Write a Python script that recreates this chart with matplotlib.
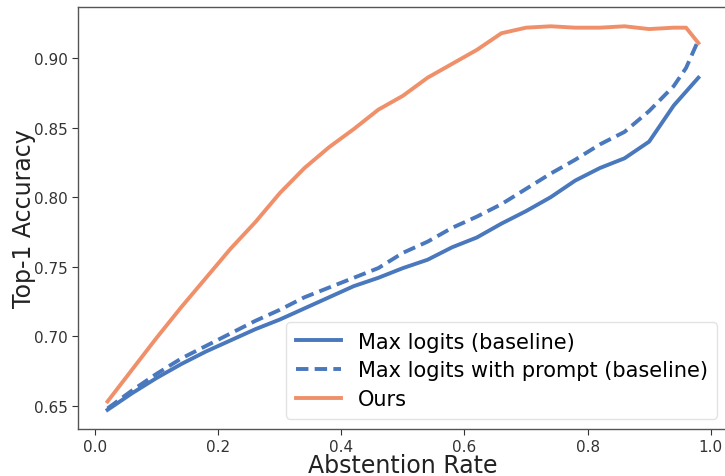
import matplotlib
matplotlib.use("Agg")
import matplotlib.pyplot as plt

# abstention rates and top-1 accuracy
abstention = [0.02, 0.06, 0.10, 0.14, 0.18, 0.22, 0.26, 0.30, 0.34, 0.38, 0.42, 0.46, 0.50,
              0.54, 0.58, 0.62, 0.66, 0.70, 0.74, 0.78, 0.82, 0.86, 0.90, 0.94, 0.96, 0.98]
max_logits = [0.647, 0.659, 0.670, 0.680, 0.689, 0.697, 0.705, 0.712, 0.720, 0.728, 0.736, 0.742, 0.749,
              0.755, 0.764, 0.771, 0.781, 0.790, 0.800, 0.812, 0.821, 0.828, 0.840, 0.866, 0.876, 0.886]
max_logits_prompt = [0.648, 0.661, 0.673, 0.684, 0.693, 0.702, 0.711, 0.719, 0.728, 0.735, 0.742, 0.749, 0.760,
                     0.768, 0.778, 0.786, 0.795, 0.806, 0.817, 0.827, 0.838, 0.847, 0.862, 0.880, 0.893, 0.913]
ours = [0.653, 0.676, 0.699, 0.721, 0.742, 0.763, 0.782, 0.803, 0.821, 0.836, 0.849, 0.863, 0.873,
        0.886, 0.896, 0.906, 0.918, 0.922, 0.923, 0.922, 0.922, 0.923, 0.921, 0.922, 0.922, 0.911]

labels = ["Max logits (baseline)", "Max logits with prompt (baseline)", "Ours"]
BLUE = "#4a78bd"
ORANGE = "#f0906a"

fig = plt.figure(figsize=(7.25, 4.77), dpi=100)
# right spine sits just past the image edge in the reference
ax = fig.add_axes([0.1076, 0.0985, 0.8964, 0.8845])

ax.plot(abstention, max_logits, color=BLUE, lw=2.8, label=labels[0])
ax.plot(abstention, max_logits_prompt, color=BLUE, lw=2.8, ls=(0, (3.2, 1.6)), label=labels[1])
ax.plot(abstention, ours, color=ORANGE, lw=2.8, label=labels[2])

ax.set_xlim(-0.028, 1.028)
ax.set_xticks([0.0, 0.2, 0.4, 0.6, 0.8, 1.0])
ax.set_yticks([0.65, 0.70, 0.75, 0.80, 0.85, 0.90])
ax.tick_params(labelsize=11, colors="#333333", length=4)
for s in ax.spines.values():
    s.set_color("#555555")
    s.set_linewidth(1.0)
ax.spines["right"].set_visible(False)

ax.set_xlabel("Abstention Rate", fontsize=17, color="#222222", labelpad=-1)
ax.set_ylabel("Top-1 Accuracy", fontsize=17, color="#222222", labelpad=-2)

leg = ax.legend(loc="lower right", fontsize=15, frameon=True, fancybox=True,
                handlelength=2.2, borderpad=0.45, labelspacing=0.42)
leg.get_frame().set_edgecolor("#dddddd")

fig.savefig("out.png", dpi=100)
